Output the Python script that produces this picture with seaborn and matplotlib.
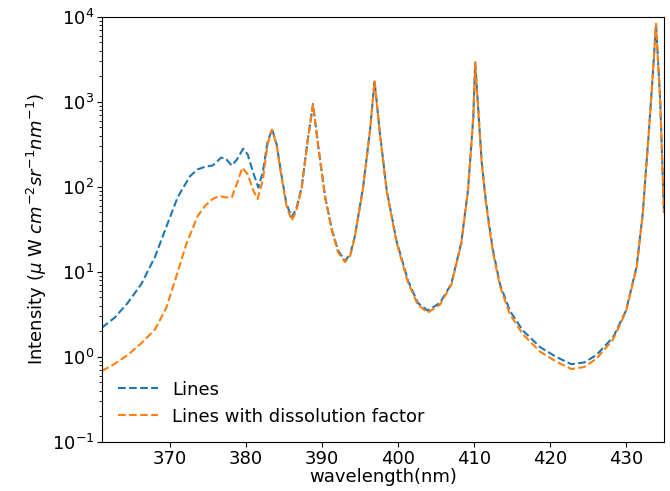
import matplotlib
matplotlib.use("Agg")
import matplotlib.pyplot as plt
import seaborn as sns
import pandas as pd

# Blue curve: "Lines"
wl_lines = [361.0, 362.7, 364.4, 366.2, 368.0, 369.5, 371.0, 372.6, 373.6, 374.6,
            375.6, 376.7, 377.3, 378.1, 378.8, 379.6, 380.2, 381.0, 381.6, 382.2,
            382.8, 383.4, 384.0, 384.6, 385.3, 386.0, 386.6, 387.3, 388.1, 388.8,
            389.5, 390.4, 391.3, 392.1, 393.0, 393.7, 394.3, 395.4, 396.3, 396.9,
            397.6, 398.5, 399.8, 401.3, 402.6, 403.9, 405.5, 407.0, 408.3, 409.2,
            409.9, 410.15, 410.6, 411.0, 411.5, 412.0, 412.5, 413.4, 414.7, 416.4,
            418.7, 420.8, 422.8, 424.5, 426.1, 428.3, 430.0, 431.4, 432.2, 433.0,
            433.6, 433.95, 434.5, 435.0]
int_lines = [2.2, 2.9, 4.3, 7.2, 15, 34, 76, 133, 160, 172,
             178, 220, 215, 178, 210, 280, 240, 140, 98, 150,
             330, 480, 320, 145, 63, 44, 55, 98, 355, 940,
             295, 76, 31, 17.8, 13.5, 16, 26, 100, 460, 1750,
             430, 91, 23, 7.9, 4.3, 3.5, 4.3, 7.2, 21.6, 91,
             660, 2900, 700, 200, 75, 35, 17.8, 7.2, 3.5, 2.05,
             1.3, 1.0, 0.82, 0.86, 1.05, 1.7, 3.5, 11.5, 48, 430,
             2600, 8300, 1050, 50]

# Orange curve: "Lines with dissolution factor"
wl_diss = [361.0, 362.7, 364.4, 366.2, 368.0, 369.5, 370.8, 372.1, 373.6, 374.6,
           375.6, 376.5, 377.3, 378.1, 378.8, 379.5, 380.2, 381.0, 381.5, 382.2,
           382.8, 383.4, 384.0, 384.6, 385.3, 386.0, 386.6, 387.3, 388.1, 388.8,
           389.5, 390.4, 391.3, 392.1, 393.0, 393.7, 394.3, 395.4, 396.3, 396.9,
           397.6, 398.5, 399.8, 401.3, 402.6, 403.9, 405.5, 407.0, 408.3, 409.2,
           409.9, 410.15, 410.6, 411.0, 411.5, 412.0, 412.5, 413.4, 414.7, 416.4,
           418.7, 420.8, 422.8, 424.5, 426.1, 428.3, 430.0, 431.4, 432.2, 433.0,
           433.6, 433.95, 434.5, 435.0]
int_diss = [0.68, 0.83, 1.05, 1.45, 2.1, 3.8, 8.8, 21, 45, 60,
            72, 78, 75, 75, 110, 168, 140, 88, 72, 120,
            310, 470, 310, 140, 60, 40, 52, 96, 350, 930,
            290, 74, 30, 17.0, 13.0, 15.5, 25.5, 98, 455, 1740,
            425, 89, 22, 7.5, 4.1, 3.3, 4.1, 7.0, 21, 90,
            655, 2880, 690, 195, 72, 33, 16.8, 6.8, 3.2, 1.85,
            1.15, 0.88, 0.72, 0.76, 0.95, 1.6, 3.4, 11.2, 47, 425,
            2580, 8250, 1040, 49]

df_lines = pd.DataFrame({"wavelength": wl_lines, "intensity": int_lines})
df_diss = pd.DataFrame({"wavelength": wl_diss, "intensity": int_diss})

fig = plt.figure(figsize=(6.7, 4.91), dpi=100)
ax = fig.add_axes([0.152, 0.100, 0.839, 0.866])

sns.lineplot(data=df_lines, x="wavelength", y="intensity", ax=ax,
             color="#1f77b4", linestyle="--", linewidth=1.5, label="Lines")
sns.lineplot(data=df_diss, x="wavelength", y="intensity", ax=ax,
             color="#ff7f0e", linestyle="--", linewidth=1.5,
             label="Lines with dissolution factor")

ax.set_yscale("log")
ax.set_ylim(1e-1, 1e4)
ax.set_xlim(361, 435)
ax.set_xticks([370, 380, 390, 400, 410, 420, 430])
ax.tick_params(labelsize=13, pad=2)
ax.set_xlabel("wavelength(nm)", fontsize=13, labelpad=0)
ax.set_ylabel(r"Intensity ($\mu$ W $cm^{-2}sr^{-1}nm^{-1}$)", fontsize=13, labelpad=2)
ax.legend(loc="lower left", frameon=False, fontsize=13,
          bbox_to_anchor=(0.0, 0.0), handlelength=2.2)

fig.savefig("out.png", dpi=100)
